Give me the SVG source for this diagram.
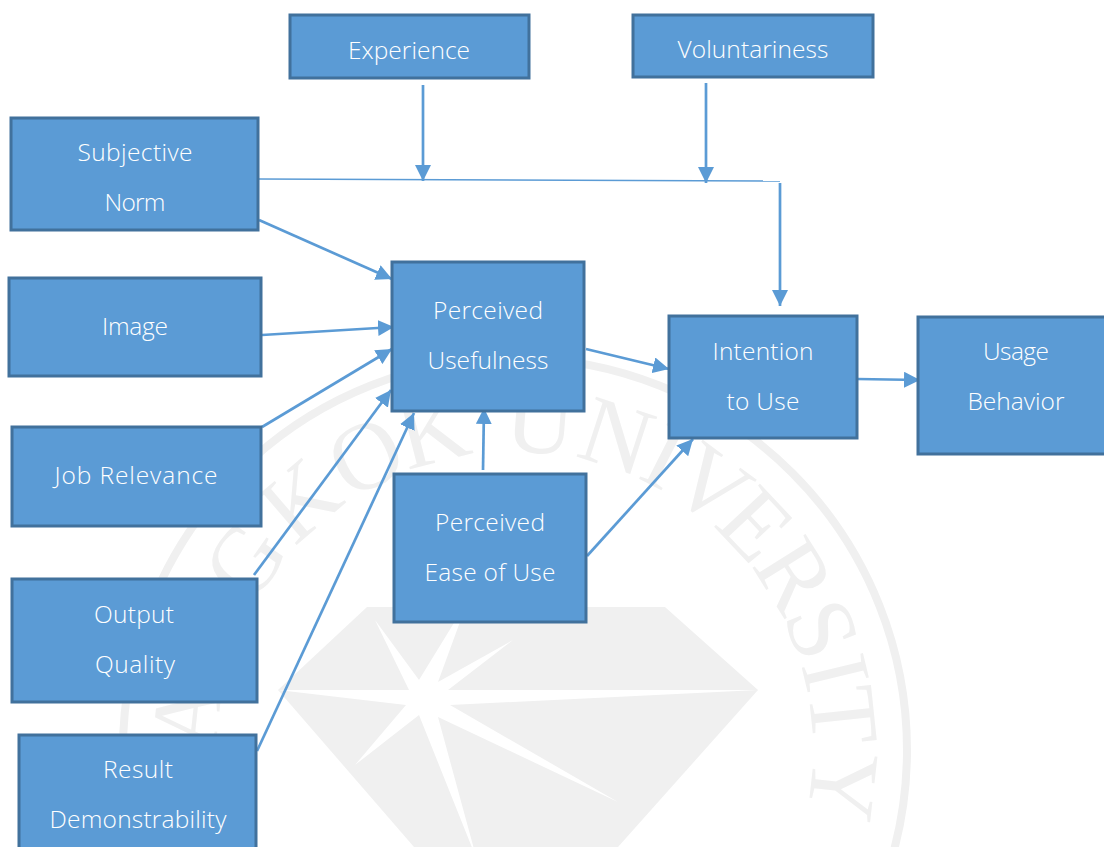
<svg xmlns="http://www.w3.org/2000/svg" width="1104" height="847" viewBox="0 0 1104 847">
<style>
.n{fill:#5b9bd5;stroke:#41719c;stroke-width:3}
.t{font-family:"Open Sans","Noto Sans",sans-serif;font-weight:300;font-size:24.5px;fill:#fff;text-anchor:middle}
.c{fill:none;stroke:#5b9bd5;stroke-width:2.7}
.thin{fill:none;stroke:#5b9bd5;stroke-width:1.4}
.wm{font-family:"Liberation Serif",serif;font-size:96px;fill:#f0f0f0;text-anchor:middle}
</style>
<defs>
<marker id="a" markerUnits="userSpaceOnUse" markerWidth="18" markerHeight="16" refX="16" refY="8" orient="auto"><path d="M0 0L16 8L0 16Z" fill="#5b9bd5"/></marker>
</defs>
<rect width="1104" height="847" fill="#fff"/>
<g id="watermark">
<circle cx="515" cy="750" r="392" fill="none" stroke="#f0f0f0" stroke-width="8"/>
<path d="M367 607H665L758 690L618 847H414L278 690Z" fill="#f0f0f0"/>
<path d="M375 620L419 680L468 600L438 682L513 640L448 690L758 690L450 705L618 802L438 717L477 860L419 715L355 765L406 705L278 690L409 690Z" fill="#fff"/>
<text class="wm" x="515" y="452" transform="rotate(-84 515 750)">A</text>
<text class="wm" x="515" y="452" transform="rotate(-55 515 750)">G</text>
<text class="wm" x="515" y="452" transform="rotate(-40.7 515 750)">K</text>
<text class="wm" x="515" y="452" transform="rotate(-26.9 515 750)">O</text>
<text class="wm" x="515" y="452" transform="rotate(-14.4 515 750)">K</text>
<text class="wm" x="515" y="452" transform="rotate(4.4 515 750)">U</text>
<text class="wm" x="515" y="452" transform="rotate(18 515 750)">N</text>
<text class="wm" x="515" y="452" transform="rotate(27 515 750)">I</text>
<text class="wm" x="515" y="452" transform="rotate(36.5 515 750)">V</text>
<text class="wm" x="515" y="452" transform="rotate(46.8 515 750)">E</text>
<text class="wm" x="515" y="452" transform="rotate(58 515 750)">R</text>
<text class="wm" x="515" y="452" transform="rotate(68.5 515 750)">S</text>
<text class="wm" x="515" y="452" transform="rotate(76.4 515 750)">I</text>
<text class="wm" x="515" y="452" transform="rotate(84 515 750)">T</text>
<text class="wm" x="515" y="452" transform="rotate(96.4 515 750)">Y</text>
</g>
<g id="connectors">
<path class="thin" d="M259 179L780 181"/>
<path class="c" d="M423 85V181" marker-end="url(#a)"/>
<path class="c" d="M706 83V183" marker-end="url(#a)"/>
<path class="c" d="M780 183V306" marker-end="url(#a)"/>
<path class="c" d="M259 220L392 279" marker-end="url(#a)"/>
<path class="c" d="M262 335L394 327" marker-end="url(#a)"/>
<path class="c" d="M262 427L392 349" marker-end="url(#a)"/>
<path class="c" d="M254 575L391 390" marker-end="url(#a)"/>
<path class="c" d="M257 751L414 413" marker-end="url(#a)"/>
<path class="c" d="M483 470L484 408" marker-end="url(#a)"/>
<path class="c" d="M586 349L669 369" marker-end="url(#a)"/>
<path class="c" d="M587 556L693 439" marker-end="url(#a)"/>
<path class="c" d="M857 379L920 380" marker-end="url(#a)"/>
</g>
<g id="experience"><rect class="n" x="290" y="15" width="239" height="63"/><text class="t" x="409" y="59" textLength="122">Experience</text></g>
<g id="voluntariness"><rect class="n" x="633" y="15" width="240" height="62"/><text class="t" x="753" y="58" textLength="151">Voluntariness</text></g>
<g id="subjective-norm"><rect class="n" x="11" y="118" width="247" height="112"/><text class="t" x="135" y="161" textLength="115">Subjective</text><text class="t" x="135" y="211" textLength="61">Norm</text></g>
<g id="image"><rect class="n" x="9" y="278" width="252" height="98"/><text class="t" x="135" y="335" textLength="66">Image</text></g>
<g id="job-relevance"><rect class="n" x="12" y="427" width="249" height="99"/><text class="t" x="136" y="484" textLength="163">Job Relevance</text></g>
<g id="output-quality"><rect class="n" x="12" y="579" width="245" height="123"/><text class="t" x="134" y="623" textLength="80">Output</text><text class="t" x="135" y="673" textLength="80">Quality</text></g>
<g id="result-demonstrability"><rect class="n" x="19" y="735" width="237" height="130"/><text class="t" x="138" y="778" textLength="70">Result</text><text class="t" x="138" y="828" textLength="177">Demonstrability</text></g>
<g id="perceived-usefulness"><rect class="n" x="392" y="262" width="192" height="149"/><text class="t" x="488" y="319" textLength="110">Perceived</text><text class="t" x="488" y="369" textLength="121">Usefulness</text></g>
<g id="perceived-ease"><rect class="n" x="394" y="474" width="192" height="148"/><text class="t" x="490" y="531" textLength="110">Perceived</text><text class="t" x="490" y="581" textLength="131">Ease of Use</text></g>
<g id="intention"><rect class="n" x="669" y="316" width="188" height="122"/><text class="t" x="763" y="360" textLength="101">Intention</text><text class="t" x="763" y="410" textLength="73">to Use</text></g>
<g id="usage"><rect class="n" x="918" y="317" width="200" height="137"/><text class="t" x="1016" y="360" textLength="66">Usage</text><text class="t" x="1016" y="410" textLength="97">Behavior</text></g>
</svg>
